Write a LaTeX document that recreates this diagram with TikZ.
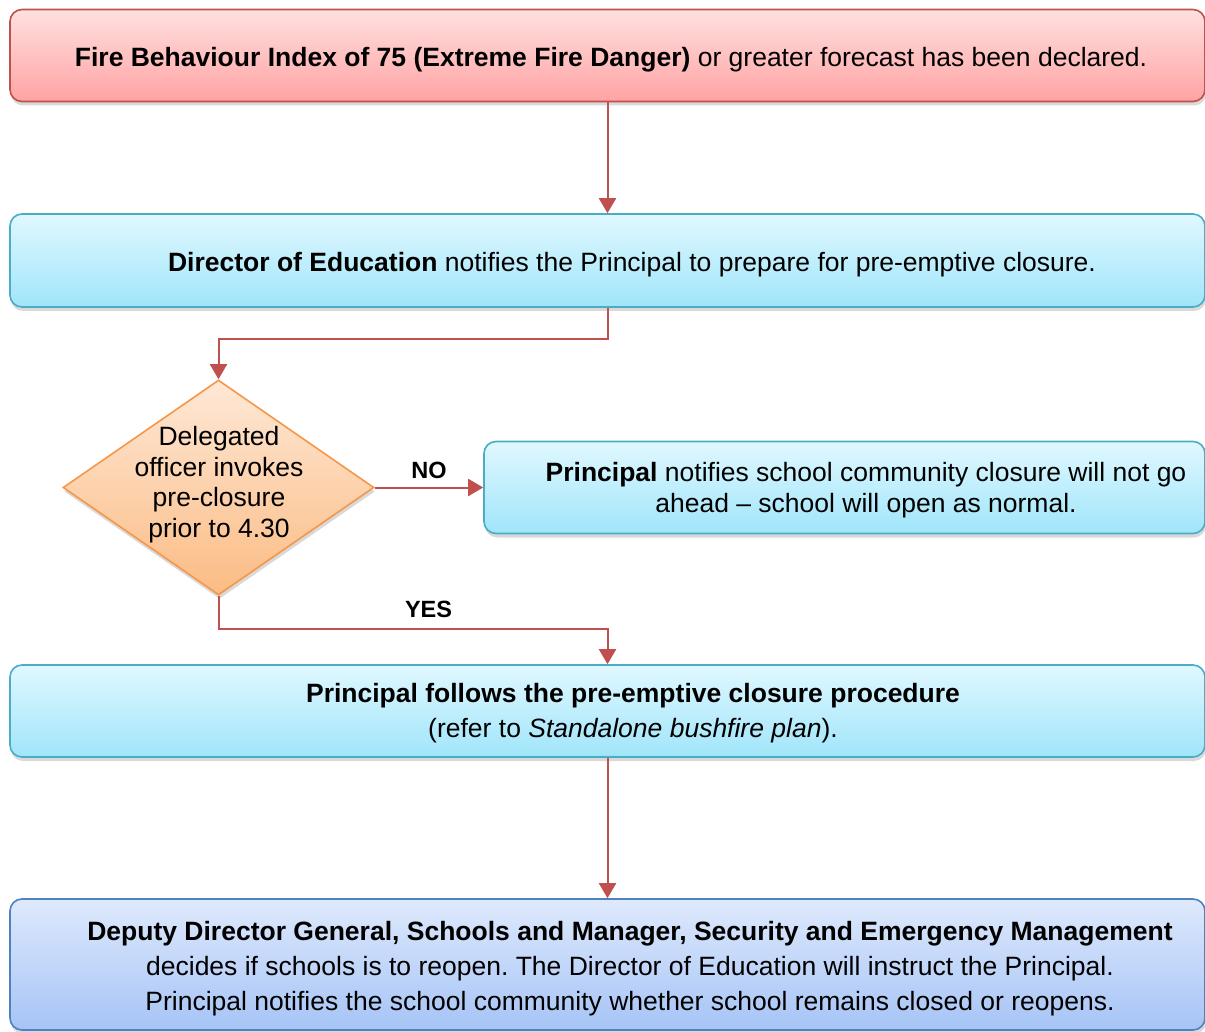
\documentclass[tikz,border=0pt]{standalone}
\usepackage{fontspec}
\setmainfont{Liberation Sans}
\usepackage{xcolor}
\usepackage{tikz}
\usetikzlibrary{arrows.meta, shapes.geometric, shadows}
\usetikzlibrary{calc,positioning}
\frenchspacing

\definecolor{redline}{HTML}{C0504D}
\definecolor{cyanline}{HTML}{4BACC6}
\definecolor{blueline}{HTML}{4F81BD}
\definecolor{orangeline}{HTML}{F79646}

\begin{document}
\begin{tikzpicture}[x=1pt, y=-1pt]
			\tikzstyle{every node}=[font=\fontsize{26.5}{35}\selectfont]
			\tikzstyle{box}=[rectangle, rounded corners=12pt, line width=1.6pt, minimum width=1195pt, minimum height=92pt, inner sep=0pt,
				drop shadow={opacity=0.3, shadow xshift=1pt, shadow yshift=-4pt}]
			\tikzstyle{redbox}=[box, draw=redline, top color={rgb,255:red,255;green,224;blue,224}, bottom color={rgb,255:red,255;green,163;blue,163}]
			\tikzstyle{cyanbox}=[box, draw=cyanline, top color={rgb,255:red,224;green,248;blue,255}, bottom color={rgb,255:red,160;green,229;blue,250}]
			\tikzstyle{bluebox}=[box, draw=blueline, top color={rgb,255:red,222;green,233;blue,252}, bottom color={rgb,255:red,166;green,196;blue,246}]
			\tikzstyle{txt}=[align=center, inner sep=0pt]
			\tikzstyle{lbl}=[font=\fontsize{23.5}{25}\selectfont\bfseries, inner sep=0pt]
			\tikzstyle{arr}=[draw=redline, line width=2pt, -{Triangle[width=17pt, length=15pt]}]
			
			\useasboundingbox (0,0) rectangle (1205,1032);
			
			\node[redbox]  (fbi) at (607.5,55.5) {};
			\node[txt]     (fbiT) at (611,59.5) {\textbf{Fire Behaviour Index of 75 (Extreme Fire Danger)} or greater forecast has been declared.};
			
			\node[cyanbox, minimum height=93pt] (dir) at (607.5,260.5) {};
			\node[txt]     (dirT) at (632,265) {\textbf{Director of Education} notifies the Principal to prepare for pre-emptive closure.};
			
			\node[diamond, draw=orangeline, line width=1.6pt, minimum width=311pt, minimum height=215pt, inner sep=0pt,
				top color={rgb,255:red,254;green,232;blue,214}, bottom color={rgb,255:red,251;green,188;blue,132},
				drop shadow={opacity=0.3, shadow xshift=1pt, shadow yshift=-4pt}] (dec) at (218.5,487.5) {};
			\node[txt, font=\fontsize{26.5}{30.5}\selectfont] (decT) at (219,484.5) {Delegated\\officer invokes\\pre-closure\\prior to 4.30};
			
			\node[cyanbox, minimum width=721pt] (nog) at (844.5,487.5) {};
			\node[txt, font=\fontsize{26.5}{31}\selectfont] (nogT) at (866,490) {\textbf{Principal} notifies school community closure will not go\\ahead -- school will open as normal.};
			
			\node[cyanbox] (pro) at (607.5,711) {};
			\node[txt]     (proT) at (633,713) {\textbf{Principal follows the pre-emptive closure procedure}\\(refer to \textit{Standalone bushfire plan}).};
			
			\node[bluebox, minimum height=131pt] (dd) at (607.5,964.5) {};
			\node[txt]     (ddT) at (630,969) {\textbf{Deputy Director General, Schools and Manager, Security and Emergency Management}\\decides if schools is to reopen. The Director of Education will instruct the Principal.\\Principal notifies the school community whether school remains closed or reopens.};
			
			\path
			(fbi.south) edge[arr] (fbi.south |- dir.north)
			(dec.east) edge[arr] node[lbl, above=8pt] {NO} (nog.west)
			(pro.south) edge[arr] (pro.south |- dd.north)
			;
			
			\draw[arr] (dir.south) -- ++(0,31) -| (dec.north);
			\draw[arr] (dec.south) -- ++(0,33) -| node[lbl, pos=0.27, above=10pt] {YES} (pro.north);
			\end{tikzpicture}
\end{document}
